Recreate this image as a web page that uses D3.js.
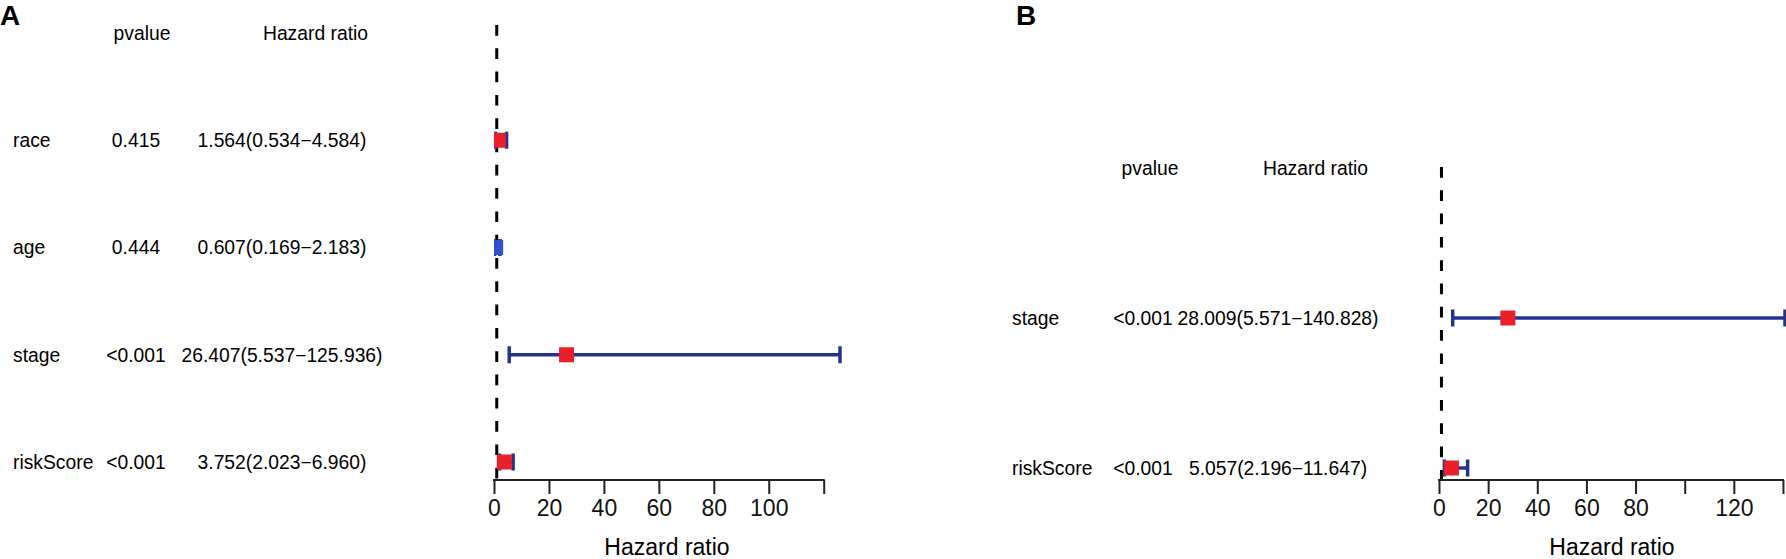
<!DOCTYPE html>
<html>
<head>
<meta charset="utf-8">
<script src="https://cdn.jsdelivr.net/npm/d3@7"></script>
<style>
  body { margin: 0; background: #fff; }
  svg { display: block; font-family: "Liberation Sans", Arial, sans-serif; }
</style>
</head>
<body>
<svg width="1786" height="559"></svg>
<script>
// panel A - multivariate cox
const namesA = ['race', 'age', 'stage', 'riskScore'];
const pvalA = ['0.415', '0.444', '<0.001', '<0.001'];
const hrA = [1.564, 0.607, 26.407, 3.752];
const lowA = [0.534, 0.169, 5.537, 2.023];
const highA = [4.584, 2.183, 125.936, 6.960];
const ticksA = [0, 20, 40, 60, 80, 100, 120];
const tickLabelsA = ['0', '20', '40', '60', '80', '100', ''];

// panel B
const namesB = ['stage', 'riskScore'];
const pvalB = ['<0.001', '<0.001'];
const hrB = [28.009, 5.057];
const lowB = [5.571, 2.196];
const highB = [140.828, 11.647];
const ticksB = [0, 20, 40, 60, 80, 100, 120, 140];
const tickLabelsB = ['0', '20', '40', '60', '80', '', '120', ''];

const svg = d3.select('svg');
const fs = 19.3;
const lineCol = '#25338f';

function forest(opt) {
  const n = opt.names.length;
  const rows = opt.names.map((name, i) => ({
    name: name, p: opt.pval[i], hr: opt.hr[i], low: opt.low[i], high: opt.high[i]
  }));

  const x = d3.scaleLinear()
    .domain([0, d3.max(opt.high)])
    .range(opt.xRange);
  // row 0 is the header line
  const y = d3.scaleLinear().domain([0, n]).range(opt.yRange);

  const g = svg.append('g');

  g.append('text')
    .attr('x', opt.labelX).attr('y', 25)
    .attr('font-size', 28).attr('font-weight', 'bold')
    .text(opt.label);

  // header
  g.append('text').attr('x', opt.pHead).attr('y', y(0)).attr('dy', '0.35em')
    .attr('text-anchor', 'middle').attr('font-size', fs).text('pvalue');
  g.append('text').attr('x', opt.hrHead).attr('y', y(0)).attr('dy', '0.35em')
    .attr('text-anchor', 'end').attr('font-size', fs).text('Hazard ratio');

  const txt = g.selectAll('g.row').data(rows).enter().append('g').attr('class', 'row')
    .attr('font-size', fs);
  txt.append('text').attr('x', opt.nameX).attr('y', (d, i) => y(i + 1)).attr('dy', '0.35em')
    .text(d => d.name);
  txt.append('text').attr('x', opt.pMid).attr('y', (d, i) => y(i + 1)).attr('dy', '0.35em')
    .attr('text-anchor', 'middle').text(d => d.p);
  txt.append('text').attr('x', opt.hrMid).attr('y', (d, i) => y(i + 1)).attr('dy', '0.35em')
    .attr('text-anchor', 'middle')
    .text(d => `${d.hr.toFixed(3)}(${d.low.toFixed(3)}\u2212${d.high.toFixed(3)})`);

  // clip to plot region
  const clipId = 'clip' + opt.label;
  svg.append('clipPath').attr('id', clipId).append('rect')
    .attr('x', x(0)).attr('y', 0)
    .attr('width', x.range()[1] - x(0) + 2).attr('height', opt.axisY);
  const plot = g.append('g').attr('clip-path', `url(#${clipId})`);

  plot.append('line')
    .attr('x1', x(1)).attr('x2', x(1))
    .attr('y1', opt.dashTop).attr('y2', opt.axisY)
    .attr('stroke', '#000').attr('stroke-width', 3)
    .attr('stroke-dasharray', '10.7,12.6');

  const ci = plot.selectAll('g.ci').data(rows).enter().append('g').attr('class', 'ci')
    .attr('stroke', lineCol).attr('stroke-width', 3.5);
  ci.append('line')
    .attr('x1', d => x(d.low)).attr('x2', d => x(d.high))
    .attr('y1', (d, i) => y(i + 1)).attr('y2', (d, i) => y(i + 1));
  ci.append('line')
    .attr('x1', d => x(d.low)).attr('x2', d => x(d.low))
    .attr('y1', (d, i) => y(i + 1) - 8.5).attr('y2', (d, i) => y(i + 1) + 8.5);
  ci.append('line')
    .attr('x1', d => x(d.high)).attr('x2', d => x(d.high))
    .attr('y1', (d, i) => y(i + 1) - 8.5).attr('y2', (d, i) => y(i + 1) + 8.5);

  const bs = 15;
  plot.selectAll('rect.box').data(rows).enter().append('rect').attr('class', 'box')
    .attr('x', d => x(d.hr) - bs / 2)
    .attr('y', (d, i) => y(i + 1) - bs / 2)
    .attr('width', bs).attr('height', bs)
    .attr('fill', d => d.hr > 1 ? '#e8202a' : '#3350c8');

  // x axis, line only spans first..last tick like base R
  const axis = d3.axisBottom(x)
    .tickValues(opt.ticks)
    .tickFormat((d, i) => opt.tickLabels[i])
    .tickSize(14).tickSizeOuter(0).tickPadding(6);
  const ax = g.append('g').attr('transform', `translate(0,${opt.axisY})`).call(axis);
  ax.select('.domain').remove();
  ax.selectAll('.tick line').attr('stroke', '#222').attr('stroke-width', 2);
  ax.selectAll('.tick text').filter(function() { return this.textContent === ''; }).remove();
  ax.selectAll('.tick text').attr('font-size', 23).attr('fill', '#111')
    .attr('font-family', '"Liberation Sans", Arial, sans-serif');
  ax.append('line')
    .attr('x1', x(opt.ticks[0]) - 1).attr('x2', x(opt.ticks[opt.ticks.length - 1]) + 1)
    .attr('stroke', '#222').attr('stroke-width', 2);

  g.append('text')
    .attr('x', (x.range()[0] + x.range()[1]) / 2).attr('y', 555)
    .attr('text-anchor', 'middle').attr('font-size', 23)
    .text('Hazard ratio');
}

forest({
  label: 'A', labelX: 0,
  names: namesA, pval: pvalA, hr: hrA, low: lowA, high: highA,
  ticks: ticksA, tickLabels: tickLabelsA,
  nameX: 13, pMid: 136, pHead: 142, hrMid: 282, hrHead: 368,
  xRange: [494, 840], yRange: [33, 462],
  dashTop: 25, axisY: 480
});

forest({
  label: 'B', labelX: 1016,
  names: namesB, pval: pvalB, hr: hrB, low: lowB, high: highB,
  ticks: ticksB, tickLabels: tickLabelsB,
  nameX: 1012, pMid: 1143, pHead: 1150, hrMid: 1278, hrHead: 1368,
  xRange: [1439, 1785], yRange: [168, 468],
  dashTop: 167, axisY: 480
});
</script>
</body>
</html>
